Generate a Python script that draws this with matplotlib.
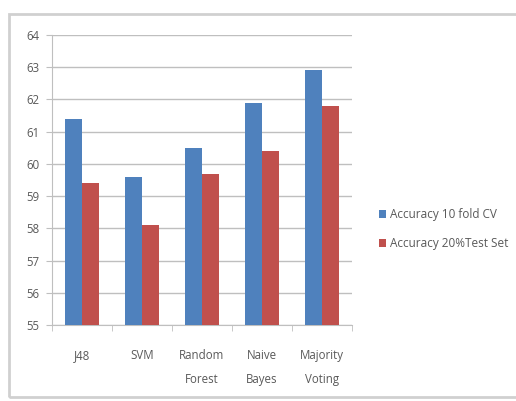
import matplotlib
matplotlib.use("Agg")
import matplotlib.pyplot as plt
import numpy as np
from matplotlib.patches import Rectangle, Patch

categories = ["J48", "SVM", "Random\nForest", "Naive\nBayes", "Majority\nVoting"]
cv_acc = [61.4, 59.6, 60.5, 61.9, 62.9]
test_acc = [59.4, 58.1, 59.7, 60.4, 61.8]
series_names = ["Accuracy 10 fold CV", "Accuracy 20%Test Set"]
yticks = [55, 56, 57, 58, 59, 60, 61, 62, 63, 64]

blue = "#4F81BD"
red = "#C0504D"
txt = "#595959"
grid = "#BFBFBF"

plt.rcParams["font.family"] = ["Open Sans", "DejaVu Sans"]

fig = plt.figure(figsize=(5.16, 4.01), dpi=100)
ax = fig.add_axes([52 / 516, 76 / 401, 300 / 516, 290 / 401])

x = np.arange(len(categories))
w = 0.285
ax.bar(x - w / 2, cv_acc, w, color=blue, zorder=3)
ax.bar(x + w / 2, test_acc, w, color=red, zorder=3)

ax.set_ylim(55, 64)
ax.set_xlim(-0.5, len(categories) - 0.5)
ax.set_yticks(yticks)
ax.set_yticklabels([str(t) for t in yticks], color=txt, fontsize=8.3)
ax.yaxis.grid(True, color=grid, lw=1.0, zorder=0)
ax.set_axisbelow(True)

ax.set_xticks(x)
ax.set_xticklabels(categories, color=txt, fontsize=8.3, linespacing=2.1, va="top")
ax.set_xticks(np.arange(-0.5, len(categories)), minor=True)
ax.tick_params(axis="x", which="major", length=0, pad=17)
ax.tick_params(axis="x", which="minor", length=4, color=grid, direction="out")
ax.tick_params(axis="y", length=4, color=grid, pad=5)

for s in ["top", "right"]:
    ax.spines[s].set_visible(False)
ax.spines["left"].set_color(grid)
ax.spines["bottom"].set_color(grid)

handles = [Patch(facecolor=blue), Patch(facecolor=red)]
fig.legend(handles, series_names, loc="center left",
           bbox_to_anchor=(368 / 516, 172 / 401), frameon=False,
           fontsize=8.5, labelcolor=txt, handlelength=0.6, handleheight=0.6,
           handletextpad=0.4, labelspacing=1.35)

# chart-area frame
fig.patches.append(Rectangle((8.5 / 516, 4 / 401), 520 / 516, 383 / 401,
                             transform=fig.transFigure, fill=False,
                             edgecolor="#D0D0D0", lw=2.0))

fig.savefig("out.png", dpi=100)
